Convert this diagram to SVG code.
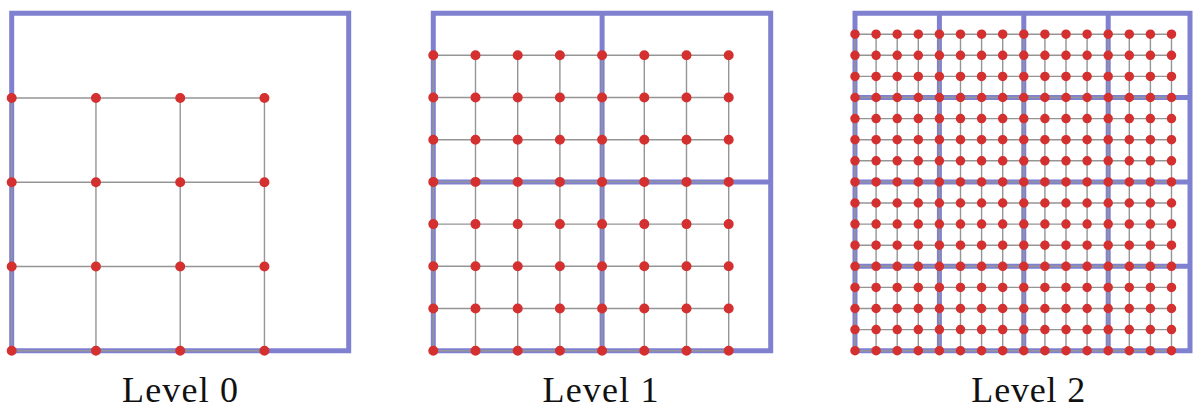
<svg xmlns="http://www.w3.org/2000/svg" width="1193" height="409" viewBox="0 0 1193 409">
<style>
.bg{fill:#ffffff}
.frame{fill:none;stroke:#8080d0;stroke-width:5;stroke-linecap:square;stroke-linejoin:miter}
.grid{fill:none;stroke:#959595;stroke-width:1.4}
.dots{fill:none;stroke:#d3302f;stroke-linecap:round}
.d0{stroke-dasharray:0 84.25;stroke-width:10}
.d1{stroke-dasharray:0 42.2;stroke-width:10}
.d2{stroke-dasharray:0 21.1;stroke-width:9.5}
.label{font-family:"Liberation Serif","DejaVu Serif",serif;font-size:36px;fill:#111111;text-anchor:middle}
</style>
<rect class="bg" x="0" y="0" width="1193" height="409"/>

<g id="level0">
  <path class="frame" d="M11.7 13.3 H348.7 V350.7 H11.7 Z"/>
  <path class="grid" d="M11.7 97.95 V350.7 M95.95 97.95 V350.7 M180.2 97.95 V350.7 M264.45 97.95 V350.7 M11.7 97.95 H264.45 M11.7 182.2 H264.45 M11.7 266.45 H264.45 M11.7 350.7 H264.45"/>
  <path class="dots d0" d="M11.7 97.95 H265.5 M11.7 182.2 H265.5 M11.7 266.45 H265.5 M11.7 350.7 H265.5"/>
  <text class="label" x="180" y="402" textLength="116" lengthAdjust="spacing">Level 0</text>
</g>

<g id="level1">
  <path class="frame" d="M433.3 13.3 H770.7 V350.7 H433.3 Z M602.1 13.3 V350.7 M433.3 181.9 H770.7"/>
  <path class="grid" d="M433.3 55.3 V350.7 M475.5 55.3 V350.7 M517.7 55.3 V350.7 M559.9 55.3 V350.7 M602.1 55.3 V350.7 M644.3 55.3 V350.7 M686.5 55.3 V350.7 M728.7 55.3 V350.7 M433.3 55.3 H728.7 M433.3 97.5 H728.7 M433.3 139.7 H728.7 M433.3 181.9 H728.7 M433.3 224.1 H728.7 M433.3 266.3 H728.7 M433.3 308.5 H728.7 M433.3 350.7 H728.7"/>
  <path class="dots d1" d="M433.3 55.3 H729.5 M433.3 97.5 H729.5 M433.3 139.7 H729.5 M433.3 181.9 H729.5 M433.3 224.1 H729.5 M433.3 266.3 H729.5 M433.3 308.5 H729.5 M433.3 350.7 H729.5"/>
  <text class="label" x="600.5" y="402" textLength="116" lengthAdjust="spacing">Level 1</text>
</g>

<g id="level2">
  <path class="frame" d="M855 13.3 H1190 V350.7 H855 Z M939.4 13.3 V350.7 M1023.8 13.3 V350.7 M1108.2 13.3 V350.7 M855 97.5 H1190 M855 181.9 H1190 M855 266.3 H1190"/>
  <path class="grid" d="M855 34.2 V350.7 M876.1 34.2 V350.7 M897.2 34.2 V350.7 M918.3 34.2 V350.7 M939.4 34.2 V350.7 M960.5 34.2 V350.7 M981.6 34.2 V350.7 M1002.7 34.2 V350.7 M1023.8 34.2 V350.7 M1044.9 34.2 V350.7 M1066 34.2 V350.7 M1087.1 34.2 V350.7 M1108.2 34.2 V350.7 M1129.3 34.2 V350.7 M1150.4 34.2 V350.7 M1171.5 34.2 V350.7 M855 34.2 H1171.5 M855 55.3 H1171.5 M855 76.4 H1171.5 M855 97.5 H1171.5 M855 118.6 H1171.5 M855 139.7 H1171.5 M855 160.8 H1171.5 M855 181.9 H1171.5 M855 203 H1171.5 M855 224.1 H1171.5 M855 245.2 H1171.5 M855 266.3 H1171.5 M855 287.4 H1171.5 M855 308.5 H1171.5 M855 329.6 H1171.5 M855 350.7 H1171.5"/>
  <path class="dots d2" d="M855 34.2 H1172.5 M855 55.3 H1172.5 M855 76.4 H1172.5 M855 97.5 H1172.5 M855 118.6 H1172.5 M855 139.7 H1172.5 M855 160.8 H1172.5 M855 181.9 H1172.5 M855 203 H1172.5 M855 224.1 H1172.5 M855 245.2 H1172.5 M855 266.3 H1172.5 M855 287.4 H1172.5 M855 308.5 H1172.5 M855 329.6 H1172.5 M855 350.7 H1172.5"/>
  <text class="label" x="1028.3" y="402" textLength="114" lengthAdjust="spacing">Level 2</text>
</g>
</svg>
